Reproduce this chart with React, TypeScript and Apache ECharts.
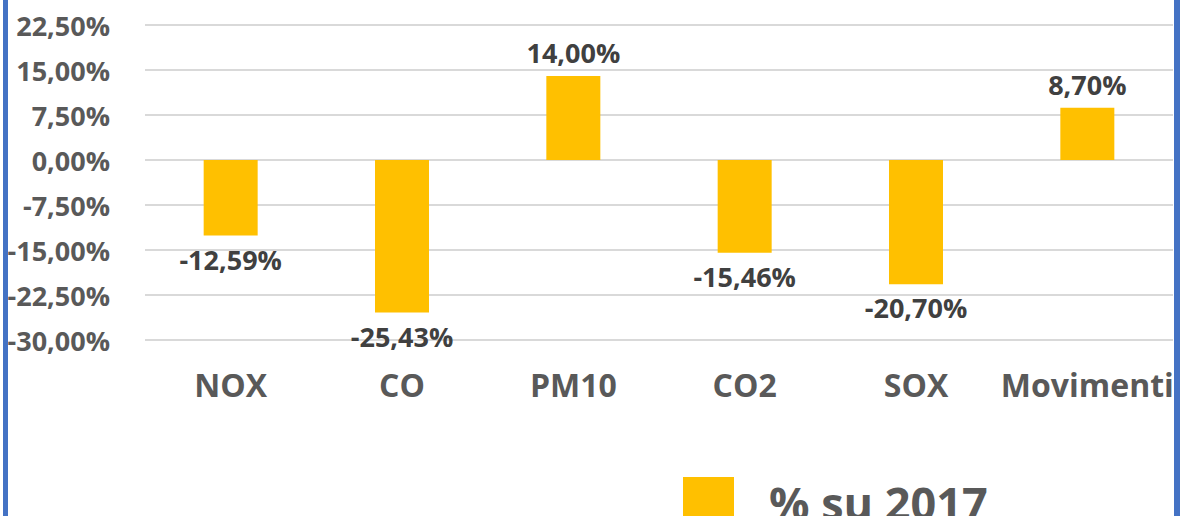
import React, { useEffect, useRef } from "react";
import * as echarts from "echarts";

// Pollutant categories and the percentage change against 2017
const categories = ["NOX", "CO", "PM10", "CO2", "SOX", "Movimenti"];
const changePct = [-12.59, -25.43, 14.0, -15.46, -20.7, 8.7];
const seriesName = "% su 2017";

const FONT = "'Open Sans', 'Noto Sans', sans-serif";
const AXIS_GREY = "#595959";
const LABEL_GREY = "#404040";
const BAR_GOLD = "#FFC000";
const FRAME_BLUE = "#4472C4";

const fmtPct = (v: number) => v.toFixed(2).replace(".", ",") + "%";

export default function App() {
  const ref = useRef<HTMLDivElement>(null);

  useEffect(() => {
    if (!ref.current) return;
    const chart = echarts.init(ref.current, undefined, { renderer: "svg" });

    chart.setOption({
      animation: false,
      backgroundColor: "#ffffff",
      grid: { left: 145, right: 7, top: 25, bottom: 176, containLabel: false },
      legend: {
        data: [seriesName],
        left: 678,
        top: 472,
        itemWidth: 51,
        itemHeight: 51,
        icon: "rect",
        textStyle: {
          fontFamily: FONT,
          fontWeight: "bold",
          fontSize: 45,
          color: AXIS_GREY,
          padding: [0, 0, 0, 30],
        },
      },
      xAxis: {
        type: "category",
        data: categories,
        axisLine: { show: false, onZero: false },
        axisTick: { show: false },
        axisLabel: {
          margin: 28,
          fontFamily: FONT,
          fontWeight: "bold",
          fontSize: 32,
          color: AXIS_GREY,
          interval: 0,
        },
      },
      yAxis: {
        type: "value",
        min: -30,
        max: 22.5,
        interval: 7.5,
        axisLine: { show: false },
        axisTick: { show: false },
        splitLine: { lineStyle: { color: "#D9D9D9", width: 2 } },
        axisLabel: {
          margin: 35,
          fontFamily: FONT,
          fontWeight: "bold",
          fontSize: 27,
          color: AXIS_GREY,
          formatter: (v: number) => fmtPct(v),
        },
      },
      series: [
        {
          name: seriesName,
          type: "bar",
          barWidth: 54,
          itemStyle: { color: BAR_GOLD },
          data: changePct.map((v) => ({
            value: v,
            label: { position: v < 0 ? "bottom" : "top" },
          })),
          label: {
            show: true,
            distance: 10,
            fontFamily: FONT,
            fontWeight: "bold",
            fontSize: 27,
            color: LABEL_GREY,
            formatter: (p: any) => fmtPct(p.value),
          },
        },
      ],
      graphic: [
        { type: "rect", left: 3, top: 0, shape: { width: 5, height: 516 }, style: { fill: FRAME_BLUE }, z: 100 },
        { type: "rect", left: 1174, top: 0, shape: { width: 6, height: 516 }, style: { fill: FRAME_BLUE }, z: 100 },
      ],
    });

    return () => chart.dispose();
  }, []);

  return (
    <div
      ref={ref}
      style={{ position: "fixed", left: 0, top: 0, width: 1180, height: 516, background: "#fff" }}
    />
  );
}
